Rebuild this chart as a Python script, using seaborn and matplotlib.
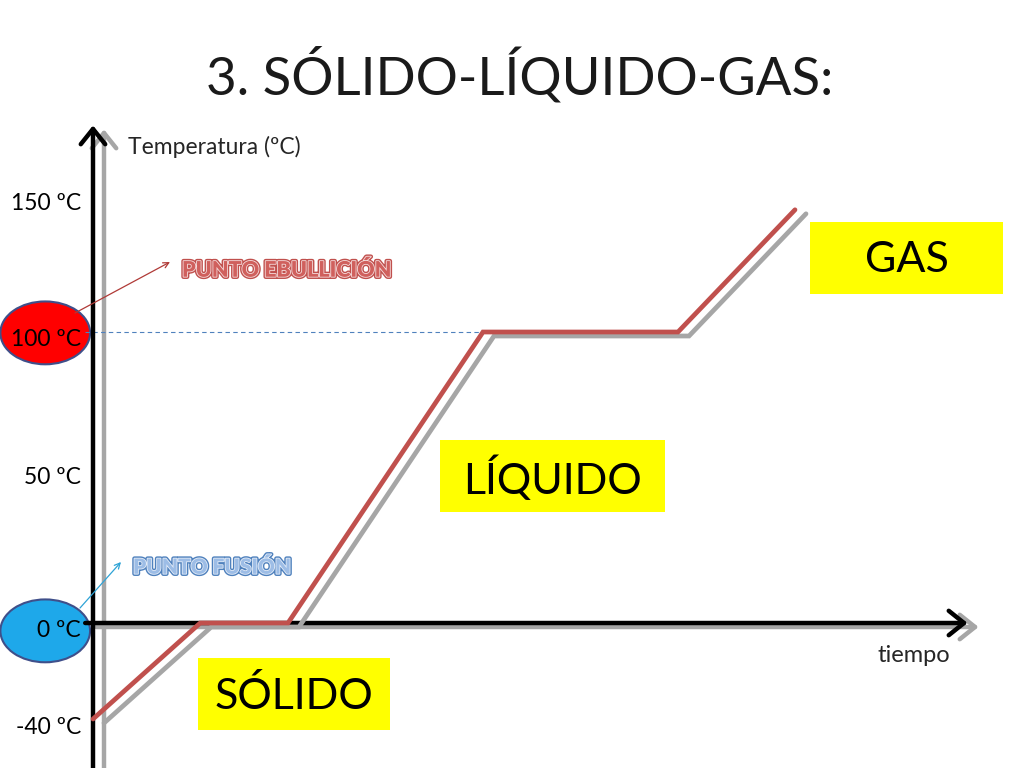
import matplotlib
matplotlib.use("Agg")
import matplotlib.pyplot as plt
import matplotlib.transforms as mtransforms
import matplotlib.patheffects as pe
from matplotlib.patches import Ellipse, Rectangle
import seaborn as sns

# --- datos ---
tiempo = [0, 11, 20, 40, 60, 72]
temperatura = [-33, 0, 0, 100, 100, 142]

ticks_temp = [-36, -2.5, 50, 97.5, 144]
ticks_txt = ["-40 ºC", "0 ºC", "50 ºC", "100 ºC", "150 ºC"]

fases = ["SÓLIDO", "LÍQUIDO", "GAS"]
titulo = "3. SÓLIDO-LÍQUIDO-GAS:"

# --- estilo ---
sns.set_style("white")
plt.rcParams["font.family"] = ["Lato", "DejaVu Sans"]

W, H = 1024, 768
ROJO = "#c0504d"
GRIS = "#a6a6a6"

fig = plt.figure(figsize=(W / 100, H / 100), dpi=100)
ax = fig.add_axes([0, 0, 1, 1])
ax.set_axis_off()

# escala: 9.75 px por unidad de tiempo, 2.91 px por grado
XLIM = (-93 / 9.75, (W - 93) / 9.75)
YLIM = (-145 / 2.91, (H - 145) / 2.91)


def fxy(px, py):
    # pixel (desde arriba-izquierda) -> fraccion de figura
    return px / W, 1 - py / H


# sombra gris desplazada
sombra = mtransforms.offset_copy(ax.transData, fig=fig, x=11, y=-4, units="dots")

# ejes con flecha (sombra + negro)
flecha = "->,head_length=0.5,head_width=0.4"
for trans, col, z in [(sombra, GRIS, 2), (ax.transData, "black", 3)]:
    ax.annotate("", xy=(0, 171), xytext=(0, -60), xycoords=trans, textcoords=trans,
                arrowprops=dict(arrowstyle=flecha, lw=3.2, color=col, mutation_scale=22,
                                shrinkA=0, shrinkB=0), zorder=z)
    ax.annotate("", xy=(89.7, 0), xytext=(-0.8, 0), xycoords=trans, textcoords=trans,
                arrowprops=dict(arrowstyle=flecha, lw=3.2, color=col, mutation_scale=22,
                                shrinkA=0, shrinkB=0), zorder=z)

# elipses de los puntos
ax.add_patch(Ellipse((-4.9, 99.7), 9.2, 21.6, facecolor="#ff0000", edgecolor="#3f4f8a",
                     lw=1.5, zorder=1))
ax.add_patch(Ellipse((-4.9, -2.7), 9.2, 21.6, facecolor="#1ea8ea", edgecolor="#3f4f8a",
                     lw=1.5, zorder=1))

# linea de ebullicion
ax.hlines(100, -0.8, 40, colors="#4f81bd", linestyles=(0, (4, 3)), lw=0.8, zorder=2)

# curva de calentamiento
sns.lineplot(x=tiempo, y=temperatura, ax=ax, color=GRIS, lw=3.4, transform=sombra,
             zorder=4, solid_joinstyle="miter")
sns.lineplot(x=tiempo, y=temperatura, ax=ax, color=ROJO, lw=3.4, zorder=5,
             solid_joinstyle="miter")
ax.set_xlim(*XLIM)
ax.set_ylim(*YLIM)
ax.set_axis_off()

# etiquetas de temperatura
for t, s in zip(ticks_temp, ticks_txt):
    ax.text(-1.25, t, s, ha="right", va="center", fontsize=16.5, color="black", zorder=6)

fig.text(*fxy(128, 147), "Temperatura (ºC)", ha="left", va="center", fontsize=16.5)
fig.text(*fxy(914, 656), "tiempo", ha="center", va="center", fontsize=17)

# titulo
fig.text(*fxy(520, 75), titulo, ha="center", va="center", fontsize=38, color="#1a1a1a")

# cajas amarillas de las fases
cajas = [(198, 658, 390, 730), (440, 440, 665, 512), (810, 222, 1003, 294)]
for fase, (x0, y0, x1, y1) in zip(fases, cajas):
    fig.patches.append(Rectangle(fxy(x0, y1), (x1 - x0) / W, (y1 - y0) / H,
                                 transform=fig.transFigure, facecolor="#ffff00",
                                 edgecolor="none", zorder=1))
    fig.text(*fxy((x0 + x1) / 2, (y0 + y1) / 2 + 2), fase, ha="center", va="center",
             fontsize=31, color="black", zorder=2)

# puntos de ebullicion y fusion
ax.annotate("", xy=fxy(170, 262), xytext=fxy(75, 313), xycoords="figure fraction",
            textcoords="figure fraction",
            arrowprops=dict(arrowstyle="->", lw=0.9, color="#b03a37", shrinkA=0, shrinkB=0))
ax.annotate("", xy=fxy(121, 562), xytext=fxy(80, 608), xycoords="figure fraction",
            textcoords="figure fraction",
            arrowprops=dict(arrowstyle="->", lw=0.9, color="#2ea3d6", shrinkA=0, shrinkB=0))

# texto tipo "WordArt": borde de color, linea clara, relleno
fig.text(*fxy(182, 270), "PUNTO EBULLICIÓN", ha="left", va="center", fontsize=15.5,
         fontweight="heavy", color="#d0605d",
         path_effects=[pe.Stroke(linewidth=3.2, foreground="#c0504d"),
                       pe.Stroke(linewidth=1.2, foreground="#f6dede"), pe.Normal()])
fig.text(*fxy(133, 567), "PUNTO FUSIÓN", ha="left", va="center", fontsize=15,
         fontweight="heavy", color="#9dbde6",
         path_effects=[pe.Stroke(linewidth=3.2, foreground="#4f81bd"),
                       pe.Stroke(linewidth=1.2, foreground="#e4ecf7"), pe.Normal()])

fig.savefig("out.png", dpi=100)
